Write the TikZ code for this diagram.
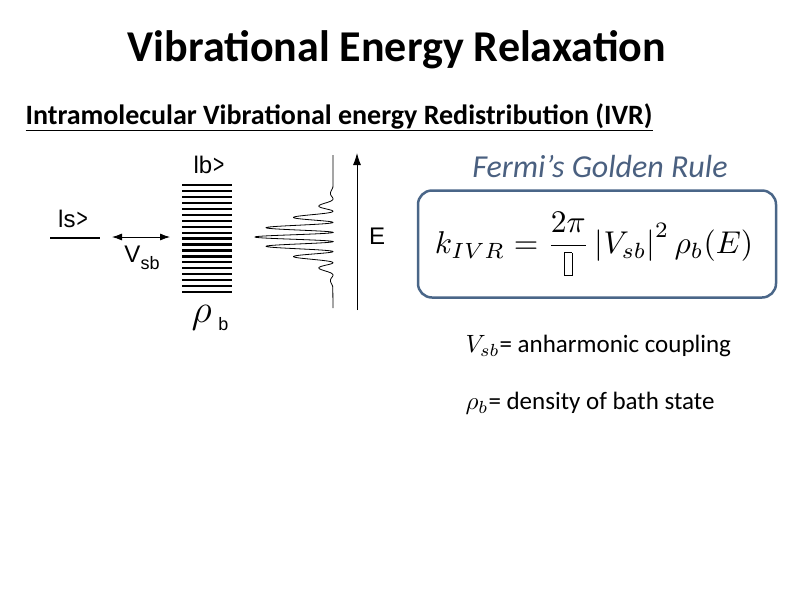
\documentclass[tikz,border=0pt]{standalone}
\usepackage{fontspec}
\setmainfont{Carlito}
\newfontfamily\arial{Liberation Sans}
\usetikzlibrary{arrows.meta}
\definecolor{boxc}{HTML}{4A6688}
\definecolor{fermi}{HTML}{4A6080}
\tikzset{lbl/.style={font=\arial\fontsize{24}{28}\selectfont, inner sep=0pt},
 bar/.style={line width=2.2pt}}
\newcommand{\emptybox}{{\setlength{\fboxsep}{0pt}\setlength{\fboxrule}{0.3pt}\fbox{\rule{0pt}{7pt}\hspace{2pt}}}}
\begin{document}
\begin{tikzpicture}[x=1pt,y=-1pt]
\useasboundingbox (0,0) rectangle (794,595);
\node (title) at (397,50) {\fontsize{44}{48}\selectfont\bfseries Vibrational Energy Relaxation};
\node[anchor=west] (sub) at (22,117) {\fontsize{28}{32}\selectfont\bfseries\underline{Intramolecular Vibrational energy Redistribution (IVR)}};
% left diagram
\coordinate (s1) at (50,238); \coordinate (s2) at (100,238);
\draw[line width=2.2pt] (s1) -- (s2);
\node[lbl] (ls) at (73,219) {ls\kern1pt\scalebox{0.8}[1.1]{>}};
\coordinate (a1) at (112,237); \coordinate (a2) at (170,237);
\draw[{Latex[length=10pt,width=7pt]}-{Latex[length=10pt,width=7pt]}, line width=0.8pt] (a1) -- (a2);
\node[lbl] (vsb) at (142,258) {V\raisebox{-7pt}{\fontsize{18}{20}\selectfont sb}};
\foreach \i in {0,...,18} {\draw[bar] (182,{185+\i*5.95}) -- (232,{185+\i*5.95});}
\node[lbl] (lb) at (209,165) {lb\kern1pt\scalebox{0.8}[1.1]{>}};
\node[lbl] (rho) at (210,318) {\scalebox{1.6}{$\rho$}\ \raisebox{-8pt}{\fontsize{18}{20}\selectfont b}};
\draw[line width=0.8pt] (333,155) -- (333,187)
  -- plot[domain=-50:50, samples=400, smooth] ({333-78*exp(-(\x/24)^2)*(0.5+0.5*cos(360/(9+abs(\x)*0.05)*\x))}, {237+\x})
  -- (333,308);
\coordinate (e1) at (357,310); \coordinate (e2) at (357,153);
\draw[-{Latex[length=12pt,width=8pt]}, line width=0.9pt] (e1) -- (e2);
\node[lbl] (E) at (377,236) {E};
% Fermi
\node[text=fermi] (fermi) at (600,167) {\fontsize{32}{36}\selectfont\itshape Fermi’s Golden Rule};
\node[draw=boxc, line width=2.5pt, rounded corners=14pt, minimum width=358pt, minimum height=107pt] (box) at (597,244) {};
\node (formula) at (594,244) {\scalebox{3.15}{$\displaystyle k_{IVR}=\frac{2\pi}{\emptybox}\left|V_{sb}\right|^{2}\rho_b(E)$}};
\node[anchor=west] (v) at (462,346) {\scalebox{2.5}{$V_{sb}$}\fontsize{25}{28}\selectfont= anharmonic coupling};
\node[anchor=west] (r) at (462,403) {\scalebox{2.5}{$\rho_b$}\fontsize{25}{28}\selectfont= density of bath state};
\end{tikzpicture}
\end{document}
